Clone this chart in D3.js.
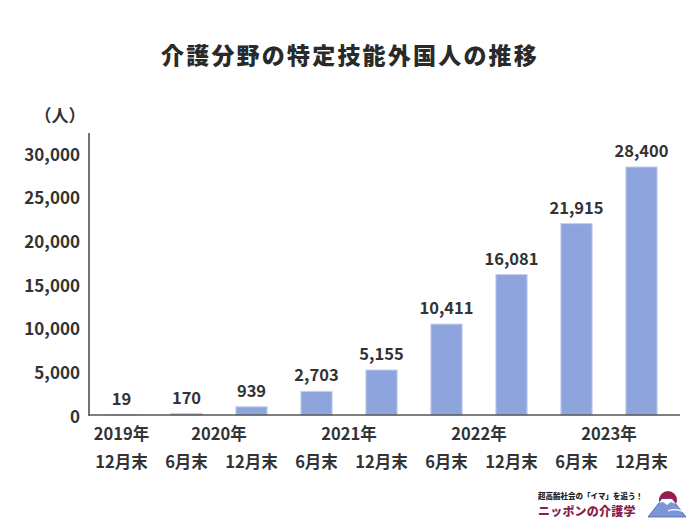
<!DOCTYPE html>
<html><head><meta charset="utf-8">
<script src="https://cdn.jsdelivr.net/npm/d3@7"></script>
<style>
body{margin:0;background:#fff;}
svg{display:block;font-family:"Noto Sans CJK JP","Noto Sans",sans-serif;}
</style></head>
<body><svg id="c" width="700" height="525"></svg>
<script>
const categories = ["2019年12月末","2020年6月末","2020年12月末","2021年6月末","2021年12月末","2022年6月末","2022年12月末","2023年6月末","2023年12月末"];
const monthLabels = ["12月末","6月末","12月末","6月末","12月末","6月末","12月末","6月末","12月末"];
const values = [19,170,939,2703,5155,10411,16081,21915,28400];
const yearLabels = ["2019年","2020年","2021年","2022年","2023年"];
const yearSpans = [[0,0],[1,2],[3,4],[5,6],[7,8]];
const yTicks = [0,5000,10000,15000,20000,25000,30000];

const svg = d3.select("#c");
const left = 89, right = 674, axisEnd = 680, bottom = 415;
const x = d3.scaleBand().domain(categories).range([left, right]).paddingInner(0.52).paddingOuter(0.26);
const y = d3.scaleLinear().domain([0, 30000]).range([bottom, 153]);
const txt = "#333";

svg.append("text").attr("x", 350).attr("y", 64).attr("text-anchor","middle")
  .attr("font-size", 23).attr("font-weight", 900).attr("fill", "#2a2a2a").attr("letter-spacing", 2.2)
  .text("介護分野の特定技能外国人の推移");

svg.append("text").attr("x", 60).attr("y", 122).attr("text-anchor","middle")
  .attr("font-size", 17).attr("font-weight", 700).attr("fill", txt).text("（人）");

// bars
svg.selectAll("rect.bar").data(values).join("rect").attr("class","bar")
  .attr("x", (d,i)=>x(categories[i])).attr("width", x.bandwidth())
  .attr("y", d=>y(d)).attr("height", d=>bottom - y(d))
  .attr("fill", "#8ea4dc").attr("stroke", "#c4cfee").attr("stroke-width", 1);

// value labels
svg.selectAll("text.val").data(values).join("text").attr("class","val")
  .attr("x", (d,i)=>x(categories[i]) + x.bandwidth()/2).attr("y", d=>y(d) - 10)
  .attr("text-anchor","middle").attr("font-size", 16.5).attr("font-weight", 700).attr("fill", txt)
  .text(d=>d3.format(",")(d));

// y axis
const yAxis = svg.append("g").attr("transform", `translate(${left},0)`)
  .call(d3.axisLeft(y).tickValues(yTicks).tickSize(0).tickPadding(9).tickFormat(d3.format(",")));
yAxis.select(".domain").remove();
yAxis.selectAll("text").attr("font-size", 17).attr("font-weight", 700).attr("fill", txt)
  .attr("font-family", '"Noto Sans CJK JP","Noto Sans",sans-serif').attr("dy","0.42em");
svg.append("line").attr("x1", left).attr("x2", left).attr("y1", 133).attr("y2", bottom+1)
  .attr("stroke", "#444").attr("stroke-width", 1.5);
svg.append("line").attr("x1", left).attr("x2", axisEnd).attr("y1", bottom).attr("y2", bottom)
  .attr("stroke", "#555").attr("stroke-width", 1.5);

// x labels
svg.selectAll("text.mon").data(monthLabels).join("text").attr("class","mon")
  .attr("x", (d,i)=>x(categories[i]) + x.bandwidth()/2).attr("y", 468)
  .attr("text-anchor","middle").attr("font-size", 16.5).attr("font-weight", 700).attr("fill", txt)
  .text(d=>d);
svg.selectAll("text.yr").data(yearLabels).join("text").attr("class","yr")
  .attr("x", (d,i)=>{const s=yearSpans[i]; return (x(categories[s[0]]) + x(categories[s[1]]) + x.bandwidth())/2;})
  .attr("y", 440).attr("text-anchor","middle").attr("font-size", 16.5).attr("font-weight", 700).attr("fill", txt)
  .text(d=>d);

// logo
const lg = svg.append("g");
lg.append("text").attr("x", 538).attr("y", 499).attr("font-size", 7.5).attr("font-weight", 900).attr("fill", "#222")
  .text("超高齢社会の「イマ」を追う！");
lg.append("text").attr("x", 538).attr("y", 516).attr("font-size", 12).attr("font-weight", 900).attr("fill", "#8a1f4e")
  .attr("letter-spacing", 0.2).text("ニッポンの介護学");
lg.append("circle").attr("cx", 668).attr("cy", 500).attr("r", 9).attr("fill", "#9c1d4b");
lg.append("path").attr("d", "M648,517 L662,499 L672,499 L686,517 Z").attr("fill", "#7d96d6").attr("stroke","#4a5fa8").attr("stroke-width",0.8);
lg.append("path").attr("d", "M659,503 L662,499 L672,499 L676,504 L671,502 L667,505 L663,502 Z").attr("fill", "#fff");
lg.append("path").attr("d", "M668,511 Q676,508 684,512").attr("fill","none").attr("stroke","#fff").attr("stroke-width",1.2);
</script></body></html>
